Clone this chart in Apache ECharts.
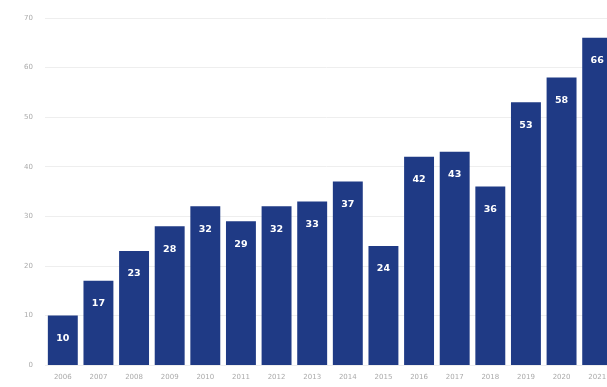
<!DOCTYPE html>
<html><head><meta charset="utf-8">
<script src="https://cdn.jsdelivr.net/npm/echarts@6/dist/echarts.min.js"></script>
<style>html,body{margin:0;padding:0;background:#fff}#c{width:607px;height:387px}</style>
</head><body><div id="c"></div>
<script>
const categories = ['2006','2007','2008','2009','2010','2011','2012','2013','2014','2015','2016','2017','2018','2019','2020','2021'];
const values = [10,17,23,28,32,29,32,33,37,24,42,43,36,53,58,66];
const yTicks = {min:0, max:70, interval:10};

const chart = echarts.init(document.getElementById('c'));
chart.setOption({
  animation:false,
  grid:{left:45, top:18, bottom:22, right:-8, outerBoundsMode:'none', containLabel:false},
  xAxis:{type:'category', data:categories,
    axisLine:{show:false}, axisTick:{show:false},
    axisLabel:{color:'#aaaaaa', fontSize:7, margin:9, interval:0, fontFamily:'DejaVu Sans'}},
  yAxis:{type:'value', min:yTicks.min, max:yTicks.max, interval:yTicks.interval,
    axisLine:{show:false}, axisTick:{show:false},
    axisLabel:{color:'#aaaaaa', fontSize:7, margin:12, fontFamily:'DejaVu Sans'},
    splitLine:{lineStyle:{color:'#eeeeee', width:1}}},
  series:[{type:'bar', data:values, barCategoryGap:'16%',
    itemStyle:{color:'#1f3a85'},
    label:{show:true, position:'insideTop', distance:18, color:'#ffffff',
      fontSize:9.5, fontWeight:'bold', fontFamily:'DejaVu Sans'}}]
});
</script></body></html>
